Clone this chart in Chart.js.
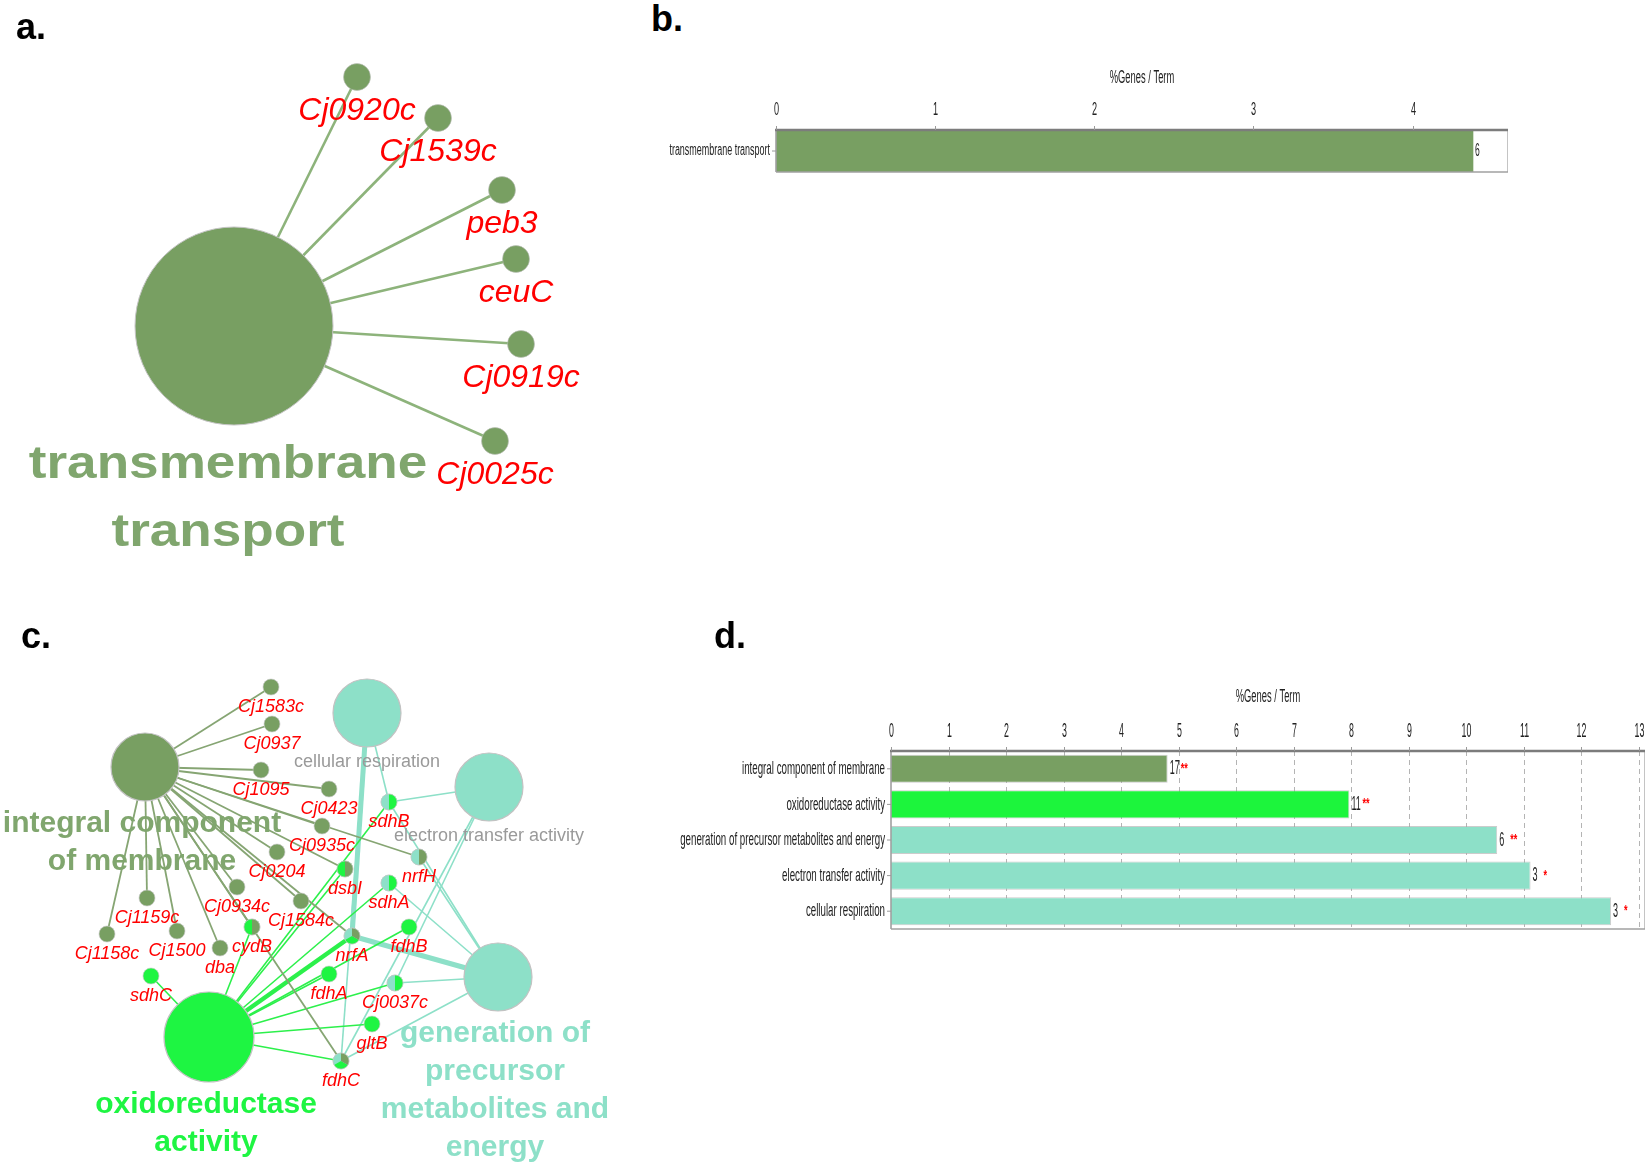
<!DOCTYPE html>
<html><head><meta charset="utf-8">
<script src="https://cdn.jsdelivr.net/npm/chart.js@4.4.1/dist/chart.umd.min.js"></script>
<style>
html,body{margin:0;padding:0;background:#fff;width:1647px;height:1166px;overflow:hidden;position:relative;font-family:"Liberation Sans",Arial,sans-serif;}
canvas{position:absolute;display:block;}
.lbl{position:absolute;font:bold 36px "Liberation Sans",Arial,sans-serif;line-height:36px;color:#000;z-index:5;}
</style></head><body>
<div class="lbl" style="left:16px;top:9px">a.</div>
<div class="lbl" style="left:651px;top:1px">b.</div>
<div class="lbl" style="left:21px;top:618px">c.</div>
<div class="lbl" style="left:714px;top:618px">d.</div>
<canvas id="ca" width="640" height="600" style="left:0;top:0"></canvas>
<canvas id="cb" width="1007" height="160" style="left:640px;top:40px"></canvas>
<canvas id="cc" width="640" height="566" style="left:0;top:600px"></canvas>
<canvas id="cd" width="967" height="300" style="left:680px;top:650px"></canvas>
<script>
// ---------- DATA ----------
// Panel a: network (layout coordinates)
const A_TERMS = ['transmembrane transport'];
const A_TERM_LINES = [['transmembrane', 'transport']];
const A_TERM_X = [234];
const A_TERM_Y = [326];
const A_GENES = ['Cj0920c', 'Cj1539c', 'peb3', 'ceuC', 'Cj0919c', 'Cj0025c'];
const A_GENE_X = [357, 438, 502, 516, 521, 495];
const A_GENE_Y = [77, 118, 190, 259, 344, 441];
const A_LINKS = [['Cj0920c', 'Cj1539c', 'peb3', 'ceuC', 'Cj0919c', 'Cj0025c']];

// Panel b: bar chart
const B_CATEGORIES = ['transmembrane transport'];
const B_PERCENT = [4.38];
const B_COUNTS = ['6'];
const B_STARS = [''];
const B_TICKS = [0, 1, 2, 3, 4];

// Panel c: network (layout coordinates)
const C_TERMS = ['integral component of membrane', 'oxidoreductase activity', 'cellular respiration', 'electron transfer activity', 'generation of precursor metabolites and energy'];
const C_TERM_LINES = [['integral component', 'of membrane'], ['oxidoreductase', 'activity'], ['cellular respiration'], ['electron transfer activity'], ['generation of', 'precursor', 'metabolites and', 'energy']];
const C_TERM_X = [145, 209, 367, 489, 498];
const C_TERM_Y = [767, 1037, 713, 787, 977];
const C_GENES = ['Cj1583c', 'Cj0937', 'Cj1095', 'Cj0423', 'Cj0935c', 'Cj0204', 'dsbI', 'nrfH', 'sdhB', 'sdhA', 'Cj0934c', 'Cj1584c', 'Cj1159c', 'Cj1500', 'Cj1158c', 'dba', 'cydB', 'nrfA', 'fdhB', 'fdhA', 'sdhC', 'Cj0037c', 'gltB', 'fdhC'];
const C_GENE_X = [271, 272, 261, 329, 322, 277, 345, 419, 389, 389, 237, 301, 147, 177, 107, 220, 252, 352, 409, 329, 151, 395, 372, 341];
const C_GENE_Y = [687, 724, 770, 789, 826, 852, 869, 857, 802, 883, 887, 901, 898, 931, 934, 948, 927, 936, 927, 974, 976, 983, 1024, 1061];
const C_LINKS = [
  ['Cj1583c', 'Cj0937', 'Cj1095', 'Cj0423', 'Cj0935c', 'Cj0204', 'dsbI', 'nrfH', 'Cj0934c', 'Cj1584c', 'Cj1159c', 'Cj1500', 'Cj1158c', 'dba', 'cydB', 'nrfA', 'fdhC'],
  ['sdhC', 'cydB', 'dsbI', 'sdhB', 'sdhA', 'nrfA', 'fdhB', 'fdhA', 'Cj0037c', 'gltB', 'fdhC'],
  ['nrfA', 'sdhB', 'fdhC'],
  ['sdhB', 'Cj0037c', 'fdhC'],
  ['nrfA', 'nrfH', 'sdhB', 'sdhA', 'Cj0037c', 'fdhC']
];
const C_HEAVY = [[1, 'nrfA'], [2, 'nrfA'], [4, 'nrfA']];

// Panel d: bar chart
const D_CATEGORIES = ['integral component of membrane', 'oxidoreductase activity', 'generation of precursor metabolites and energy', 'electron transfer activity', 'cellular respiration'];
const D_PERCENT = [4.81, 7.97, 10.54, 11.12, 12.52];
const D_COUNTS = ['17', '11', '6', '3', '3'];
const D_STARS = ['**', '**', '**', '*', '*'];
const D_TICKS = [0, 1, 2, 3, 4, 5, 6, 7, 8, 9, 10, 11, 12, 13];

// ---------- STYLE ----------
const FONT = '"Liberation Sans", Arial, sans-serif';
const OLIVE = '#789f62', GREEN = '#1ef542', MINT = '#8de0c8';
const GROUP_COLOR = { olive: OLIVE, green: GREEN, mint: MINT };
const EDGE_COLOR = { olive: '#86a573', green: '#2cf04b', mint: '#8de0c8' };
const LABEL_COLOR = { olive: '#80a66e', green: '#1ef542', mint: '#8de0c8' };
const C_TERM_GROUP = ['olive', 'green', 'mint', 'mint', 'mint'];
const C_TERM_R = [34, 45, 34, 34, 34];
const C_TERM_MINOR = [false, false, true, true, false];
const D_BAR_COLORS = [OLIVE, '#1cf53c', MINT, MINT, MINT];

Chart.defaults.font.family = FONT;

function sText(ctx, txt, x, y, o) {
  ctx.save();
  ctx.font = o.font; ctx.fillStyle = o.color || '#000';
  ctx.textAlign = o.align || 'center'; ctx.textBaseline = o.baseline || 'middle';
  ctx.translate(x, y); ctx.scale(o.sx || 1, 1);
  ctx.fillText(txt, 0, 0);
  ctx.restore();
}
function line(ctx, x1, y1, x2, y2, color, w, dash) {
  ctx.save(); ctx.strokeStyle = color; ctx.lineWidth = w;
  if (dash) ctx.setLineDash(dash);
  ctx.beginPath(); ctx.moveTo(x1, y1); ctx.lineTo(x2, y2); ctx.stroke(); ctx.restore();
}

// ---------- NETWORK ----------
function buildNetwork(id, yMin, yMax, net) {
  const datasets = net.edges.map(e => ({
    type: 'line', data: [{ x: e.x1, y: e.y1 }, { x: e.x2, y: e.y2 }],
    borderColor: e.color, borderWidth: e.width, pointRadius: 0, fill: false, tension: 0, order: 2, clip: false
  }));
  datasets.push({
    type: 'bubble', order: 1, clip: false,
    data: net.nodes.map(n => ({ x: n.x, y: n.y, r: n.r })),
    backgroundColor: net.nodes.map(n => n.colors[0]),
    borderColor: net.nodes.map(n => n.border),
    borderWidth: net.nodes.map(n => n.bw),
    hoverRadius: 0
  });
  const bubbleIndex = datasets.length - 1;
  const plugin = {
    id: 'net_' + id,
    beforeDatasetDraw(chart, args) {
      if (args.index !== bubbleIndex) return;
      const ctx = chart.ctx, sx = chart.scales.x, sy = chart.scales.y;
      net.termLabels.forEach(t => {
        const px = sx.getPixelForValue(t.x), py = sy.getPixelForValue(t.y);
        t.lines.forEach((s, k) => sText(ctx, s, px + (t.dx || 0), py + t.r + t.offset + k * t.spacing,
          { font: t.font, color: t.color, baseline: 'alphabetic', sx: t.sx || 1 }));
      });
    },
    afterDatasetsDraw(chart) {
      const ctx = chart.ctx;
      const meta = chart.getDatasetMeta(bubbleIndex);
      meta.data.forEach((el, i) => {
        const n = net.nodes[i];
        if (n.colors.length < 2) return;
        const x = el.x, y = el.y, r = n.r;
        let slices;
        const D = Math.PI / 180;
        if (n.colors.length === 2) slices = [[n.colors[0], 90, 270], [n.colors[1], -90, 90]];
        else slices = [[n.colors[0], 150, 270], [n.colors[1], 30, 150], [n.colors[2], -90, 30]];
        slices.forEach(s => {
          ctx.beginPath(); ctx.moveTo(x, y); ctx.arc(x, y, r, s[1] * D, s[2] * D); ctx.closePath();
          ctx.fillStyle = s[0]; ctx.fill();
        });
        ctx.beginPath(); ctx.arc(x, y, r, 0, 2 * Math.PI);
        ctx.strokeStyle = n.border; ctx.lineWidth = n.bw; ctx.stroke();
      });
      net.geneLabels.forEach(g => {
        const px = chart.scales.x.getPixelForValue(g.x), py = chart.scales.y.getPixelForValue(g.y);
        sText(ctx, g.text, px, py + g.offset, { font: g.font, color: '#ff0000', baseline: 'alphabetic' });
      });
    }
  };
  return new Chart(document.getElementById(id), {
    type: 'bubble',
    data: { datasets },
    options: {
      responsive: false, animation: false, events: [],
      layout: { padding: 0, autoPadding: false },
      scales: {
        x: { type: 'linear', display: false, min: 0, max: 640 },
        y: { type: 'linear', display: false, min: yMin, max: yMax, reverse: true }
      },
      plugins: { legend: { display: false }, tooltip: { enabled: false } }
    },
    plugins: [plugin]
  });
}

// Panel a network
(function () {
  const nodes = [], edges = [], geneLabels = [], termLabels = [];
  A_LINKS.forEach((genes, t) => {
    genes.forEach(g => {
      const gi = A_GENES.indexOf(g);
      edges.push({ x1: A_TERM_X[t], y1: A_TERM_Y[t], x2: A_GENE_X[gi], y2: A_GENE_Y[gi], color: '#8db37b', width: 2.6 });
    });
    nodes.push({ x: A_TERM_X[t], y: A_TERM_Y[t], r: 99, colors: [OLIVE], border: '#c4c4c4', bw: 1 });
    termLabels.push({ x: A_TERM_X[t], y: A_TERM_Y[t], r: 99, offset: 53, spacing: 68, dx: -6, lines: A_TERM_LINES[t],
      font: 'bold 47px ' + FONT, color: '#80a66e', sx: 1.13 });
  });
  A_GENES.forEach((g, i) => {
    nodes.push({ x: A_GENE_X[i], y: A_GENE_Y[i], r: 13.5, colors: [OLIVE], border: 'rgba(190,190,190,0.7)', bw: 0.8 });
    geneLabels.push({ x: A_GENE_X[i], y: A_GENE_Y[i], text: g, offset: 43, font: 'italic 32px ' + FONT });
  });
  buildNetwork('ca', 0, 600, { nodes, edges, geneLabels, termLabels });
})();

// Panel c network
(function () {
  const nodes = [], edges = [], geneLabels = [], termLabels = [];
  C_LINKS.forEach((genes, t) => {
    const grp = C_TERM_GROUP[t];
    genes.forEach(g => {
      const gi = C_GENES.indexOf(g);
      const heavy = C_HEAVY.some(h => h[0] === t && h[1] === g);
      edges.push({ x1: C_TERM_X[t], y1: C_TERM_Y[t], x2: C_GENE_X[gi], y2: C_GENE_Y[gi],
        color: EDGE_COLOR[grp], width: heavy ? (grp === 'green' ? 4.5 : 5) : (grp === 'olive' ? 1.8 : 1.6) });
    });
  });
  C_TERMS.forEach((name, t) => {
    nodes.push({ x: C_TERM_X[t], y: C_TERM_Y[t], r: C_TERM_R[t], colors: [GROUP_COLOR[C_TERM_GROUP[t]]], border: '#c2c2c2', bw: 1.2 });
    if (C_TERM_MINOR[t]) {
      termLabels.push({ x: C_TERM_X[t], y: C_TERM_Y[t], r: C_TERM_R[t], offset: 20, spacing: 0, lines: C_TERM_LINES[t],
        font: '18px ' + FONT, color: '#9a9a9a' });
    } else {
      termLabels.push({ x: C_TERM_X[t], y: C_TERM_Y[t], r: C_TERM_R[t], offset: 31, spacing: 38, dx: -3, lines: C_TERM_LINES[t],
        font: 'bold 30px ' + FONT, color: LABEL_COLOR[C_TERM_GROUP[t]] });
    }
  });
  const order = ['mint', 'green', 'olive'];
  C_GENES.forEach((g, i) => {
    const groups = new Set();
    C_LINKS.forEach((genes, t) => { if (genes.includes(g)) groups.add(C_TERM_GROUP[t]); });
    const cols = order.filter(o => groups.has(o)).map(o => GROUP_COLOR[o]);
    nodes.push({ x: C_GENE_X[i], y: C_GENE_Y[i], r: 8, colors: cols, border: 'rgba(200,200,200,0.8)', bw: 0.8 });
    geneLabels.push({ x: C_GENE_X[i], y: C_GENE_Y[i], text: g, offset: 25, font: 'italic 18px ' + FONT });
  });
  buildNetwork('cc', 600, 1166, { nodes, edges, geneLabels, termLabels });
})();

// ---------- BAR CHARTS ----------
function barDecor(cfg) {
  return {
    id: 'decor_' + cfg.id,
    beforeDatasetsDraw(chart) {
      const { ctx, chartArea: a, scales: { x } } = chart;
      if (cfg.dashed) cfg.ticks.forEach(t => {
        if (t === 0) return;
        const px = Math.round(x.getPixelForValue(t)) + 0.5;
        line(ctx, px, a.top, px, a.bottom, '#b4b4b4', 1, [5, 4]);
      });
    },
    afterDatasetsDraw(chart) {
      const { ctx, chartArea: a, scales: { x, y } } = chart;
      line(ctx, a.right - 0.5, a.top, a.right - 0.5, a.bottom, '#c4c4c4', 1);
      line(ctx, a.left, a.bottom, a.right, a.bottom, '#a0a0a0', 1.6);
      line(ctx, a.left, a.top, a.left, a.bottom, '#a0a0a0', 1.6);
      line(ctx, a.left - 1, a.top, a.right, a.top, '#7c7c7c', 2.4);
      cfg.ticks.forEach(t => {
        const px = Math.round(x.getPixelForValue(t)) + 0.5;
        line(ctx, px, a.top - 4, px, a.top, '#9a9a9a', 1);
        sText(ctx, String(t), px, a.top - 20, { font: cfg.tickFont, color: '#222', sx: cfg.tickSx });
      });
      sText(ctx, cfg.title, (a.left + a.right) / 2, a.top - cfg.titleGap, { font: cfg.titleFont, color: '#222', sx: cfg.titleSx });
      const meta = chart.getDatasetMeta(0);
      cfg.cats.forEach((c, i) => {
        const cy = y.getPixelForValue(i);
        line(ctx, a.left - 4, cy, a.left, cy, '#9a9a9a', 1);
        sText(ctx, c, a.left - 6, cy, { font: cfg.catFont, color: '#222', align: 'right', sx: cfg.catSx });
        const el = meta.data[i];
        sText(ctx, cfg.counts[i], el.x + 2, cy, { font: cfg.countFont, color: '#222', align: 'left', sx: cfg.countSx });
        if (cfg.stars[i]) sText(ctx, cfg.stars[i], el.x + 13, cy + 4, { font: 'bold 14px ' + FONT, color: '#ff0000', align: 'left', baseline: 'alphabetic', sx: 0.65 });
      });
    }
  };
}

new Chart(document.getElementById('cb'), {
  type: 'bar',
  data: { labels: B_CATEGORIES, datasets: [{ data: B_PERCENT, backgroundColor: [OLIVE], borderWidth: 0, barPercentage: 1, categoryPercentage: 1 }] },
  options: {
    indexAxis: 'y', responsive: false, animation: false, events: [],
    layout: { padding: { left: 136, right: 139, top: 90, bottom: 28 } },
    scales: { x: { display: false, min: 0, max: 4.6 }, y: { display: false } },
    plugins: { legend: { display: false }, tooltip: { enabled: false } }
  },
  plugins: [barDecor({ id: 'b', ticks: B_TICKS, cats: B_CATEGORIES, counts: B_COUNTS, stars: B_STARS, dashed: false,
    title: '%Genes / Term', titleGap: 52, titleFont: '18px ' + FONT, titleSx: 0.52,
    tickFont: '19px ' + FONT, tickSx: 0.48, catFont: '16px ' + FONT, catSx: 0.56, countFont: '19px ' + FONT, countSx: 0.45 })]
});

new Chart(document.getElementById('cd'), {
  type: 'bar',
  data: { labels: D_CATEGORIES, datasets: [{ data: D_PERCENT, backgroundColor: D_BAR_COLORS,
    borderWidth: 1, borderColor: 'rgba(170,170,170,0.6)', barPercentage: 0.79, categoryPercentage: 1 }] },
  options: {
    indexAxis: 'y', responsive: false, animation: false, events: [],
    layout: { padding: { left: 211, right: 2, top: 101, bottom: 21 } },
    scales: { x: { display: false, min: 0, max: 13.11 }, y: { display: false } },
    plugins: { legend: { display: false }, tooltip: { enabled: false } }
  },
  plugins: [barDecor({ id: 'd', ticks: D_TICKS, cats: D_CATEGORIES, counts: D_COUNTS, stars: D_STARS, dashed: true,
    title: '%Genes / Term', titleGap: 54, titleFont: '18px ' + FONT, titleSx: 0.52,
    tickFont: '21px ' + FONT, tickSx: 0.42, catFont: '19px ' + FONT, catSx: 0.513, countFont: '20px ' + FONT, countSx: 0.45 })]
});
</script>
</body></html>
